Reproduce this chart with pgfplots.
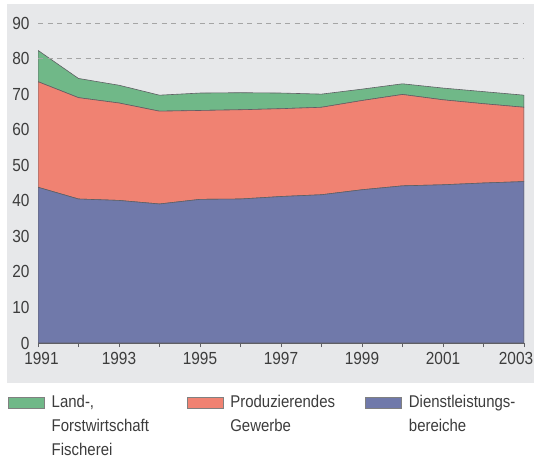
\documentclass[border=0pt]{standalone}
\usepackage{pgfplots}
\pgfplotsset{compat=1.18}
\usepackage{fontspec}
\setmainfont[FakeStretch=0.88]{Liberation Sans}
\definecolor{bgpanel}{RGB}{231,232,234}
\definecolor{cgreen}{RGB}{112,184,136}
\definecolor{cred}{RGB}{240,130,114}
\definecolor{cblue}{RGB}{112,121,170}
\definecolor{cedge}{RGB}{95,95,100}
\definecolor{ctext}{RGB}{60,60,60}
\definecolor{cgrid}{RGB}{165,165,165}
\pgfplotstableread{
year D P L
1991 43.8 29.7 8.8
1992 40.5 28.5 5.4
1993 40.1 27.4 5.0
1994 39.1 26.1 4.5
1995 40.4 25.0 4.9
1996 40.5 25.1 4.8
1997 41.2 24.7 4.4
1998 41.7 24.6 3.7
1999 43.1 25.1 3.2
2000 44.2 25.7 3.0
2001 44.5 23.9 3.3
2002 45.0 22.3 3.4
2003 45.4 20.9 3.4
}\datatable
\begin{document}
\begin{tikzpicture}
\useasboundingbox (0,0) rectangle (534bp,-461bp);
\fill[bgpanel] (7bp,-4bp) rectangle (534bp,-383bp);
\begin{axis}[
  at={(38bp,-343bp)}, anchor=south west,
  scale only axis, width=486bp, height=320bp,
  xmin=1991, xmax=2003, ymin=0, ymax=90,
  axis x line*=bottom, axis y line*=left,
  y axis line style={draw=none},
  x axis line style={draw=cedge, line width=0.6bp},
  xtick={1991,1993,...,2001},
  xticklabel={\ifdim\tick pt<1992pt \hspace*{7bp}\fi\pgfmathprintnumber[1000 sep={}]{\tick}},
  minor xtick={1992,1994,...,2002},
  extra x ticks={2003},
  extra x tick style={xticklabel style={xshift=-8bp}},
  ytick={0,10,...,90},
  extra y ticks={80,90},
  extra y tick labels={},
  extra y tick style={grid=major, major grid style={cgrid, dash pattern=on 5bp off 4.5bp, line width=0.6bp}, major tick length=0pt},
  ytick style={draw=none},
  xtick style={draw=cedge, line width=0.6bp},
  tick align=outside,
  major tick length=4bp, minor tick length=4bp,
  /pgf/number format/1000 sep={},
  /pgf/number format/assume math mode=true,
  ticklabel style={font=\fontsize{17.5bp}{20bp}\selectfont, text=ctext},
  yticklabel style={xshift=-1bp},
  xticklabel style={yshift=-2bp},
  stack plots=y,
  area style,
  reverse legend,
  legend columns=3,
  legend style={at={(axis description cs:-0.068,-0.157)}, anchor=north west, draw=none, fill=none,
    font=\fontsize{17bp}{24bp}\selectfont, text=ctext,
    nodes={inner sep=0pt, text width=125bp, align=left},
    /tikz/every odd column/.append style={column sep=7bp},
    /tikz/every even column/.append style={column sep=10bp}},
  legend cell align=left,
  legend image code/.code={\draw[#1, draw=gray] (0bp,-5.5bp) rectangle (36bp,5.5bp);},
]
\addplot[fill=cblue, draw=cedge, line width=0.6bp] table[x=year, y=D] {\datatable} \closedcycle;
\addplot[fill=cred, draw=cedge, line width=0.6bp] table[x=year, y=P] {\datatable} \closedcycle;
\addplot[fill=cgreen, draw=cedge, line width=0.6bp] table[x=year, y=L] {\datatable} \closedcycle;
\legend{{Dienstleistungs-\\bereiche},{Produzierendes\\Gewerbe},{Land-,\\Forstwirtschaft\\Fischerei}}
\end{axis}
\end{tikzpicture}
\end{document}
